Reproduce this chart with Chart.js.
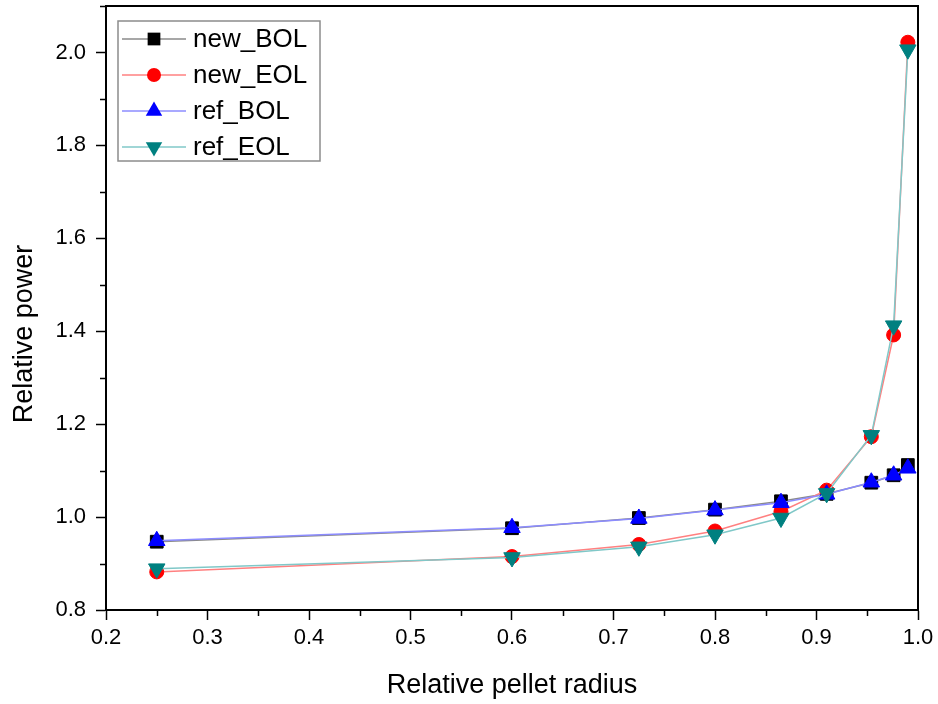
<!DOCTYPE html>
<html>
<head>
<meta charset="utf-8">
<script src="https://cdn.jsdelivr.net/npm/chart.js@4/dist/chart.umd.min.js"></script>
<style>
  html, body { margin: 0; padding: 0; background: #fff; }
  #wrap { width: 938px; height: 704px; }
</style>
</head>
<body>
<div id="wrap"><canvas id="power" width="938" height="704"></canvas></div>
<script>
var radius = [0.25, 0.6, 0.725, 0.8, 0.865, 0.91, 0.954, 0.976, 0.99]
var newBOL = [0.947, 0.976, 0.998, 1.016, 1.034, 1.05, 1.074, 1.09, 1.112]
var newEOL = [0.882, 0.915, 0.941, 0.970, 1.012, 1.058, 1.173, 1.392, 2.022]
var refBOL = [0.949, 0.977, 0.997, 1.015, 1.031, 1.049, 1.075, 1.09, 1.105]
var refEOL = [0.889, 0.913, 0.936, 0.962, 0.998, 1.051, 1.176, 1.412, 2.006]
var seriesNames = ['new_BOL', 'new_EOL', 'ref_BOL', 'ref_EOL']
var xTitle = 'Relative pellet radius'
var yTitle = 'Relative power'

var font = '"Liberation Sans", Arial, sans-serif'

function pts(vals) {
    var out = []
    for (let i in radius) out.push({x: radius[i], y: vals[i]})
    return out
}

function series(name, vals, line, mark, style, r, rot, order) {
    return {
        label: name,
        data: pts(vals),
        showLine: true,
        borderColor: line,
        borderWidth: 1.5,
        backgroundColor: mark,
        pointBackgroundColor: mark,
        pointBorderColor: mark,
        pointBorderWidth: 1,
        pointStyle: style,
        pointRadius: r,
        pointHoverRadius: r,
        pointRotation: rot,
        order: order,
    }
}

function drawMarker(ctx, style, r, rot, x, y) {
    ctx.beginPath()
    if (style === 'rect') {
        var s = r * Math.SQRT1_2
        ctx.rect(x - s, y - s, 2 * s, 2 * s)
    } else if (style === 'circle') {
        ctx.arc(x, y, r, 0, Math.PI * 2)
    } else {
        var a = rot * Math.PI / 180
        for (let k = 0; k < 3; k++) {
            var px = x + Math.sin(a) * r, py = y - Math.cos(a) * r
            if (k === 0) ctx.moveTo(px, py); else ctx.lineTo(px, py)
            a += Math.PI * 2 / 3
        }
        ctx.closePath()
    }
    ctx.fill()
}

// frame, minor ticks, y title and the boxed legend
var extras = {
    id: 'extras',
    afterDraw(chart) {
        var ctx = chart.ctx, a = chart.chartArea
        var xs = chart.scales.x, ys = chart.scales.y
        ctx.save()
        ctx.strokeStyle = '#000'
        ctx.lineWidth = 2
        ctx.strokeRect(a.left, a.top, a.right - a.left, a.bottom - a.top)
        ctx.lineWidth = 1.5
        ctx.beginPath()
        ys.ticks.forEach(function (t) {
            if (Math.round(t.value * 10) % 2 !== 0) {
                var y = Math.round(ys.getPixelForValue(t.value)) + 0.5
                ctx.moveTo(a.left - 6, y); ctx.lineTo(a.left, y)
            }
        })
        xs.ticks.forEach(function (t) {
            if (Math.round(t.value * 100) % 10 !== 0) {
                var x = Math.round(xs.getPixelForValue(t.value)) + 0.5
                ctx.moveTo(x, a.bottom); ctx.lineTo(x, a.bottom + 6)
            }
        })
        ctx.stroke()

        // y title
        ctx.save()
        ctx.translate(25, 334)
        ctx.rotate(-Math.PI / 2)
        ctx.fillStyle = '#000'
        ctx.font = '27px ' + font
        ctx.textAlign = 'center'
        ctx.textBaseline = 'middle'
        ctx.fillText(yTitle, 0, 0)
        ctx.restore()

        // legend
        var bx = 118, by = 21, bw = 202, bh = 140
        ctx.fillStyle = '#fff'
        ctx.fillRect(bx, by, bw, bh)
        ctx.strokeStyle = '#8c8c8c'
        ctx.lineWidth = 1.5
        ctx.strokeRect(bx, by, bw, bh)
        ctx.font = '26px ' + font
        ctx.textBaseline = 'middle'
        chart.data.datasets.forEach(function (ds, i) {
            var y = 39 + i * 36
            ctx.strokeStyle = ds.borderColor
            ctx.lineWidth = 1.5
            ctx.beginPath(); ctx.moveTo(122, y); ctx.lineTo(186, y); ctx.stroke()
            ctx.fillStyle = ds.pointBackgroundColor
            drawMarker(ctx, ds.pointStyle, ds.pointRadius, ds.pointRotation, 154, y)
            ctx.fillStyle = '#000'
            ctx.fillText(ds.label, 193, y + 1)
        })
        ctx.restore()
    }
}

new Chart('power', {
    type: 'scatter',
    data: {
        datasets: [
            series(seriesNames[0], newBOL, '#8a8a8a', '#000000', 'rect', 9, 0, 3),
            series(seriesNames[1], newEOL, '#ff8080', '#ff0000', 'circle', 7, 0, 2),
            series(seriesNames[2], refBOL, '#8c8cff', '#0000ff', 'triangle', 9.5, 0, 1),
            series(seriesNames[3], refEOL, '#80c8c8', '#008080', 'triangle', 9.5, 180, 0),
        ]
    },
    plugins: [extras],
    options: {
        responsive: false,
        animation: false,
        layout: { autoPadding: false, padding: { left: 0, top: 6, right: 20, bottom: 0 } },
        plugins: {
            legend: { display: false },
            tooltip: { enabled: false },
        },
        scales: {
            x: {
                type: 'linear',
                min: 0.2,
                max: 1.0,
                afterFit: function (s) { s.height = 94; s.paddingLeft = 0; s.paddingRight = 0 },
                ticks: {
                    stepSize: 0.05,
                    autoSkip: false,
                    maxRotation: 0,
                    padding: 5,
                    color: '#000',
                    font: { family: font, size: 22 },
                    callback: function (v) { return Math.round(v * 100) % 10 === 0 ? v.toFixed(1) : '' }
                },
                grid: {
                    drawOnChartArea: false,
                    tickLength: 10,
                    tickWidth: 1.5,
                    tickColor: function (c) { return c.tick && Math.round(c.tick.value * 100) % 10 === 0 ? '#000' : 'rgba(0,0,0,0)' }
                },
                border: { display: true, color: '#000', width: 2 },
                title: {
                    display: true,
                    text: xTitle,
                    color: '#000',
                    font: { family: font, size: 27 },
                    padding: { top: 0, bottom: 2 }
                }
            },
            y: {
                min: 0.8,
                max: 2.1,
                afterFit: function (s) { s.width = 106; s.paddingTop = 0; s.paddingBottom = 0 },
                ticks: {
                    stepSize: 0.1,
                    autoSkip: false,
                    padding: 10,
                    color: '#000',
                    font: { family: font, size: 22 },
                    callback: function (v) { return Math.round(v * 10) % 2 === 0 ? v.toFixed(1) : '' }
                },
                grid: {
                    drawOnChartArea: false,
                    tickLength: 10,
                    tickWidth: 1.5,
                    tickColor: function (c) { return c.tick && Math.round(c.tick.value * 10) % 2 === 0 ? '#000' : 'rgba(0,0,0,0)' }
                },
                border: { display: true, color: '#000', width: 2 }
            }
        }
    }
})
</script>
</body>
</html>
